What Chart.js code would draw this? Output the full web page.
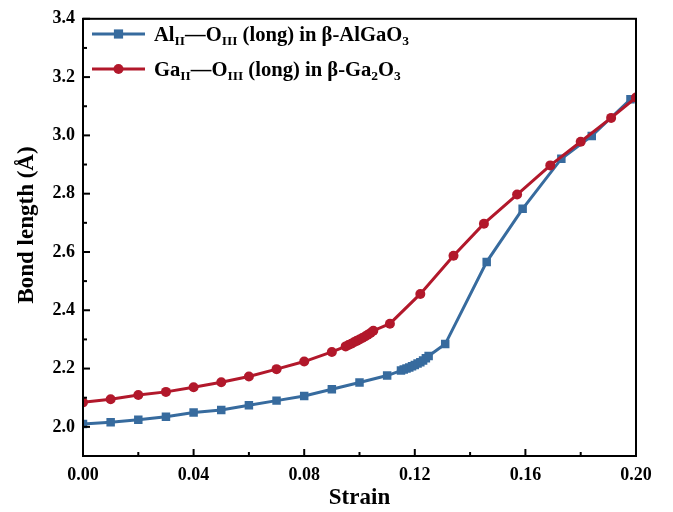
<!DOCTYPE html>
<html>
<head>
<meta charset="utf-8">
<script src="https://cdn.jsdelivr.net/npm/chart.js@4.4.0/dist/chart.umd.min.js"></script>
<style>
  html, body { margin: 0; padding: 0; background: #fff; }
</style>
</head>
<body>
<canvas id="main-chart" width="673" height="512"></canvas>
<script>
// strain values and bond lengths
const strainAl = [0, 0.01, 0.02, 0.03, 0.04, 0.05, 0.06, 0.07, 0.08, 0.09, 0.10, 0.11,
  0.115, 0.116, 0.117, 0.118, 0.119, 0.120, 0.121, 0.122, 0.123, 0.124, 0.125,
  0.131, 0.146, 0.159, 0.173, 0.184, 0.198];
const bondAl = [2.010, 2.016, 2.024, 2.035, 2.049, 2.058, 2.074, 2.090, 2.106, 2.129, 2.152, 2.176,
  2.193, 2.197, 2.200, 2.204, 2.208, 2.212, 2.217, 2.222, 2.228, 2.235, 2.243,
  2.284, 2.566, 2.748, 2.920, 2.998, 3.124];

const strainGa = [0, 0.01, 0.02, 0.03, 0.04, 0.05, 0.06, 0.07, 0.08, 0.09,
  0.095, 0.096, 0.097, 0.098, 0.099, 0.100, 0.101, 0.102, 0.103, 0.104, 0.105,
  0.111, 0.122, 0.134, 0.145, 0.157, 0.169, 0.180, 0.191, 0.200];
const bondGa = [2.084, 2.095, 2.109, 2.120, 2.136, 2.153, 2.173, 2.198, 2.224, 2.257,
  2.276, 2.281, 2.285, 2.290, 2.295, 2.300, 2.305, 2.310, 2.316, 2.322, 2.330,
  2.354, 2.456, 2.587, 2.697, 2.797, 2.897, 2.978, 3.060, 3.130];

const xTickLabels = [0, 0.04, 0.08, 0.12, 0.16, 0.20];
const xMinorTicks = [0.02, 0.06, 0.10, 0.14, 0.18];
const yTickLabels = [2.0, 2.2, 2.4, 2.6, 2.8, 3.0, 3.2, 3.4];
const yMinorTicks = [2.1, 2.3, 2.5, 2.7, 2.9, 3.1, 3.3];

const blue = 'rgb(55,107,158)';
const red = 'rgb(178,24,43)';
const serif = '"Liberation Serif", "Times New Roman", serif';
const yTitle = 'Bond length (Å)';

const legendItems = [
  { color: blue, style: 'rect', radius: 6.5,
    parts: [['Al'], ['II', 1], ['—O'], ['III', 1], [' (long) in β-AlGaO'], ['3', 1]] },
  { color: red, style: 'circle', radius: 5,
    parts: [['Ga'], ['II', 1], ['—O'], ['III', 1], [' (long) in β-Ga'], ['2', 1], ['O'], ['3', 1]] }
];

// frame, inward ticks, y title and the legend with subscripts
const decor = {
  id: 'decor',
  afterDraw(chart) {
    const { ctx, chartArea: a, scales: { x, y } } = chart;
    ctx.save();
    ctx.strokeStyle = '#000';
    ctx.lineWidth = 2;
    ctx.strokeRect(a.left, a.top, a.right - a.left, a.bottom - a.top);

    const tick = (x1, y1, x2, y2) => {
      ctx.beginPath(); ctx.moveTo(x1, y1); ctx.lineTo(x2, y2); ctx.stroke();
    };
    xTickLabels.forEach(v => { const p = x.getPixelForValue(v); tick(p, a.bottom, p, a.bottom - 7); });
    xMinorTicks.forEach(v => { const p = x.getPixelForValue(v); tick(p, a.bottom, p, a.bottom - 4); });
    yTickLabels.forEach(v => { const p = y.getPixelForValue(v); tick(a.left, p, a.left + 7, p); });
    yMinorTicks.forEach(v => { const p = y.getPixelForValue(v); tick(a.left, p, a.left + 4, p); });

    // y title sits a little above the centre of the axis in the figure
    ctx.save();
    ctx.translate(27, 225);
    ctx.rotate(-Math.PI / 2);
    ctx.font = 'bold 23px ' + serif;
    ctx.fillStyle = '#000';
    ctx.textAlign = 'center';
    ctx.textBaseline = 'middle';
    ctx.fillText(yTitle, 0, 0);
    ctx.restore();

    legendItems.forEach((it, i) => {
      const ly = 34 + i * 35;
      ctx.strokeStyle = it.color;
      ctx.lineWidth = 3;
      tick(92, ly, 145, ly);
      ctx.fillStyle = it.color;
      Chart.helpers.drawPoint(ctx, { pointStyle: it.style, radius: it.radius, borderWidth: 0 }, 118.5, ly);

      let tx = 154;
      ctx.fillStyle = '#000';
      ctx.textBaseline = 'alphabetic';
      it.parts.forEach(([t, sub]) => {
        ctx.font = sub ? 'bold 13.5px ' + serif : 'bold 20.6px ' + serif;
        ctx.fillText(t, tx, ly + (sub ? 11 : 7));
        tx += ctx.measureText(t).width;
      });
    });
    ctx.restore();
  }
};

const config = {
  type: 'line',
  data: {
    datasets: [{
      label: 'AlII—OIII (long) in β-AlGaO3',
      data: strainAl.map((s, i) => ({ x: s, y: bondAl[i] })),
      borderColor: blue,
      backgroundColor: blue,
      borderWidth: 3,
      pointStyle: 'rect',
      pointRadius: 6,
      pointBorderWidth: 0,
      order: 1,
      clip: 0
    }, {
      label: 'GaII—OIII (long) in β-Ga2O3',
      data: strainGa.map((s, i) => ({ x: s, y: bondGa[i] })),
      borderColor: red,
      backgroundColor: red,
      borderWidth: 3,
      pointStyle: 'circle',
      pointRadius: 5,
      pointBorderWidth: 0,
      order: 0,
      clip: 0
    }]
  },
  options: {
    responsive: false,
    animation: false,
    devicePixelRatio: 1,
    layout: { padding: { top: 14, right: 37, left: 0, bottom: 0 } },
    plugins: { legend: { display: false }, tooltip: { enabled: false } },
    elements: { line: { tension: 0 } },
    scales: {
      x: {
        type: 'linear',
        min: 0, max: 0.2,
        afterBuildTicks: s => { s.ticks = xTickLabels.map(v => ({ value: v })); },
        afterFit: s => { s.height = 56; },
        grid: { display: false, drawTicks: false },
        border: { display: false },
        ticks: {
          color: '#000', padding: 9, maxRotation: 0,
          font: { family: serif, size: 18, weight: 'bold' },
          callback: v => v.toFixed(2)
        },
        title: {
          display: true, text: 'Strain', color: '#000', padding: 0,
          font: { family: serif, size: 23, weight: 'bold' }
        }
      },
      y: {
        type: 'linear',
        min: 1.9, max: 3.4,
        afterBuildTicks: s => { s.ticks = yTickLabels.map(v => ({ value: v })); },
        afterFit: s => { s.width = 83; },
        grid: { display: false, drawTicks: false },
        border: { display: false },
        ticks: {
          color: '#000', padding: 8,
          font: { family: serif, size: 18, weight: 'bold' },
          callback: v => v.toFixed(1)
        },
        title: { display: false }
      }
    }
  },
  plugins: [decor]
};

const myChart = new Chart(document.getElementById('main-chart'), config);
</script>
</body>
</html>
